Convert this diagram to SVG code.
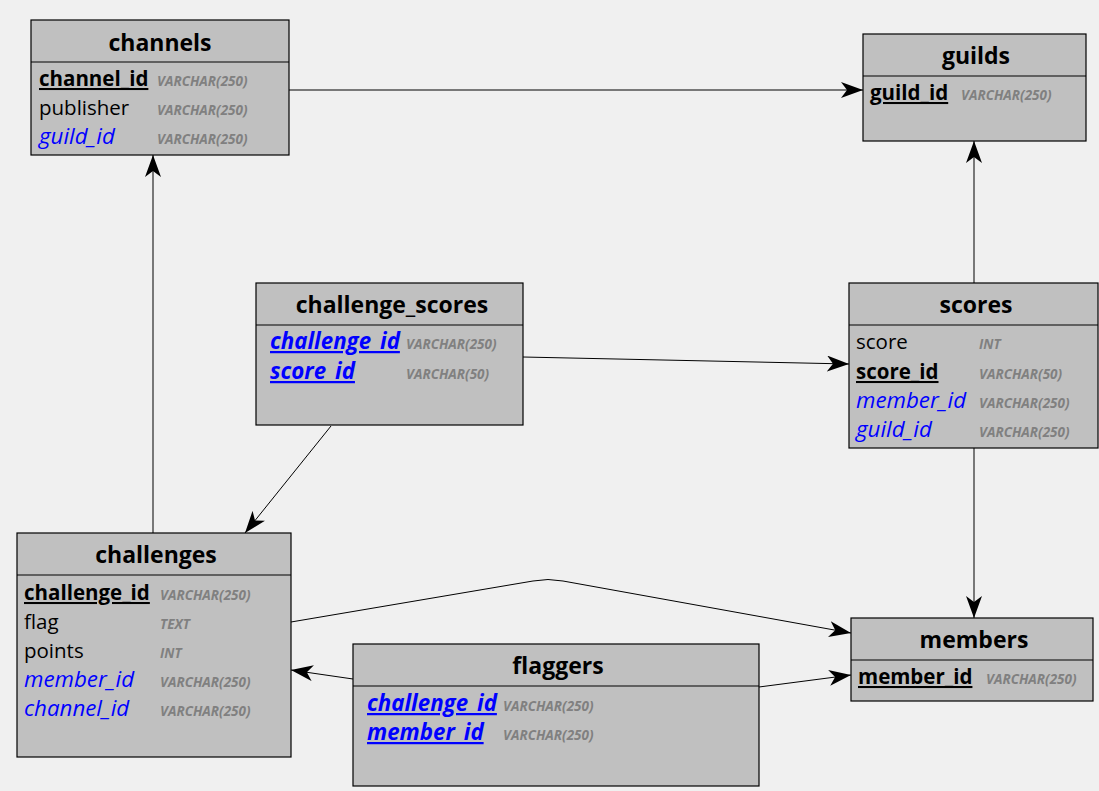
<svg xmlns="http://www.w3.org/2000/svg" width="1099" height="791" viewBox="0 0 1099 791">
<style>
.box{fill:#c0c0c0;stroke:#000;stroke-width:1.2}
.hl{stroke:#000;stroke-width:1.2}
.title{font-family:"Open Sans","Noto Sans",sans-serif;font-weight:bold;font-size:23px;text-anchor:middle;fill:#000}
.f{font-family:"Open Sans","Noto Sans",sans-serif;font-size:20.5px;fill:#000}
.pk{font-weight:bold;text-decoration:underline}
.fk{fill:#0000ff;font-style:italic;font-size:22.3px}
.t{font-family:"Open Sans","Noto Sans",sans-serif;font-size:13.5px;font-style:italic;font-weight:bold;fill:#808080}
.c{fill:none;stroke:#000;stroke-width:1}
</style>
<defs>
<marker id="arr" viewBox="0 0 22 16" refX="22" refY="8" markerWidth="22" markerHeight="16" markerUnits="userSpaceOnUse" orient="auto">
<path d="M0,0 L22,8 L0,16 L6,8 Z" fill="#000"/>
</marker>
</defs>
<rect width="1099" height="791" fill="#f0f0f0"/>
<g id="connectors">
<line class="c" x1="289" y1="90" x2="863" y2="90" marker-end="url(#arr)"/>
<line class="c" x1="974" y1="283" x2="974" y2="141" marker-end="url(#arr)"/>
<line class="c" x1="523" y1="357" x2="849" y2="364" marker-end="url(#arr)"/>
<line class="c" x1="331" y1="426" x2="245" y2="533" marker-end="url(#arr)"/>
<line class="c" x1="153" y1="533" x2="153" y2="155" marker-end="url(#arr)"/>
<line class="c" x1="974" y1="448" x2="974" y2="618" marker-end="url(#arr)"/>
<path class="c" d="M291,622 L533,581 Q548,578 563,581 L851,633" marker-end="url(#arr)"/>
<line class="c" x1="353" y1="679" x2="291" y2="670" marker-end="url(#arr)"/>
<line class="c" x1="759" y1="687" x2="851" y2="675" marker-end="url(#arr)"/>
</g>
<g id="channels">
<rect class="box" x="31" y="20" width="258" height="135"/>
<line class="hl" x1="31" y1="62" x2="289" y2="62"/>
<text class="title" x="160" y="51">channels</text>
<text class="f pk" x="39" y="86">channel_id</text>
<text class="f" x="39" y="115">publisher</text>
<text class="f fk" x="39" y="144">guild_id</text>
<text class="t" x="157" y="86">VARCHAR(250)</text>
<text class="t" x="157" y="115">VARCHAR(250)</text>
<text class="t" x="157" y="144">VARCHAR(250)</text>
</g>
<g id="guilds">
<rect class="box" x="863" y="34" width="223" height="107"/>
<line class="hl" x1="863" y1="76" x2="1086" y2="76"/>
<text class="title" x="976" y="64">guilds</text>
<text class="f pk" x="870" y="100">guild_id</text>
<text class="t" x="961" y="100">VARCHAR(250)</text>
</g>
<g id="challenge_scores">
<rect class="box" x="256" y="283" width="267" height="142"/>
<line class="hl" x1="256" y1="325" x2="523" y2="325"/>
<text class="title" x="392" y="313">challenge_scores</text>
<text class="f pk fk" x="270" y="349">challenge_id</text>
<text class="f pk fk" x="270" y="379">score_id</text>
<text class="t" x="406" y="349">VARCHAR(250)</text>
<text class="t" x="406" y="379">VARCHAR(50)</text>
</g>
<g id="scores">
<rect class="box" x="849" y="283" width="249" height="165"/>
<line class="hl" x1="849" y1="325" x2="1098" y2="325"/>
<text class="title" x="976" y="313">scores</text>
<text class="f" x="856" y="349">score</text>
<text class="f pk" x="856" y="379">score_id</text>
<text class="f fk" x="856" y="408">member_id</text>
<text class="f fk" x="856" y="437">guild_id</text>
<text class="t" x="979" y="349">INT</text>
<text class="t" x="979" y="379">VARCHAR(50)</text>
<text class="t" x="979" y="408">VARCHAR(250)</text>
<text class="t" x="979" y="437">VARCHAR(250)</text>
</g>
<g id="challenges">
<rect class="box" x="17" y="533" width="274" height="224"/>
<line class="hl" x1="17" y1="575" x2="291" y2="575"/>
<text class="title" x="156" y="563">challenges</text>
<text class="f pk" x="24" y="600">challenge_id</text>
<text class="f" x="24" y="629">flag</text>
<text class="f" x="24" y="658">points</text>
<text class="f fk" x="24" y="687">member_id</text>
<text class="f fk" x="24" y="716">channel_id</text>
<text class="t" x="160" y="600">VARCHAR(250)</text>
<text class="t" x="160" y="629">TEXT</text>
<text class="t" x="160" y="658">INT</text>
<text class="t" x="160" y="687">VARCHAR(250)</text>
<text class="t" x="160" y="716">VARCHAR(250)</text>
</g>
<g id="flaggers">
<rect class="box" x="353" y="644" width="406" height="142"/>
<line class="hl" x1="353" y1="686" x2="759" y2="686"/>
<text class="title" x="558" y="674">flaggers</text>
<text class="f pk fk" x="367" y="711">challenge_id</text>
<text class="f pk fk" x="367" y="740">member_id</text>
<text class="t" x="503" y="711">VARCHAR(250)</text>
<text class="t" x="503" y="740">VARCHAR(250)</text>
</g>
<g id="members">
<rect class="box" x="851" y="618" width="242" height="83"/>
<line class="hl" x1="851" y1="660" x2="1093" y2="660"/>
<text class="title" x="974" y="648">members</text>
<text class="f pk" x="858" y="684">member_id</text>
<text class="t" x="986" y="684">VARCHAR(250)</text>
</g>
</svg>
